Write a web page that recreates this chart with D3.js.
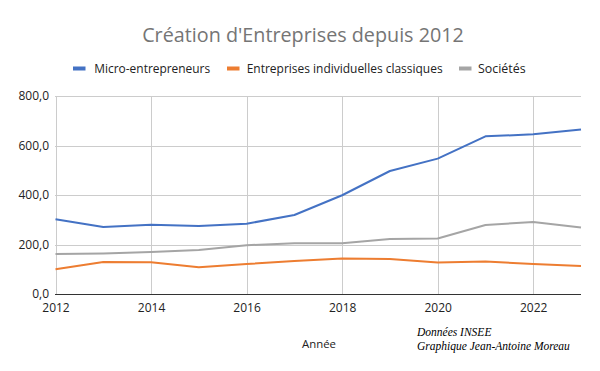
<!DOCTYPE html>
<html><head><meta charset="utf-8">
<script src="https://cdn.jsdelivr.net/npm/d3@7"></script>
<style>body{margin:0;background:#fff;}svg{display:block;font-family:"Open Sans", Roboto, sans-serif;}</style>
</head><body>
<svg id="c" width="600" height="371"></svg>
<script>
const years = [2012,2013,2014,2015,2016,2017,2018,2019,2020,2021,2022,2023];
const microEntrepreneurs = [302,271,280,275,284,319,399,497,547,637,645,665];
const entreprisesClassiques = [100,129,128,108,121,133,143,141,127,131,121,113];
const societes = [162,164,170,178,197,205,205,222,224,279,291,269];
const seriesNames = ["Micro-entrepreneurs","Entreprises individuelles classiques","Sociétés"];
const seriesColors = ["#4472c4","#ed7d31","#a5a5a5"];
const xTicks = [2012,2014,2016,2018,2020,2022];
const yTicks = [0,200,400,600,800];

const svg = d3.select("#c");
const x = d3.scaleLinear().domain([2012,2023]).range([55.5,581]);
const y = d3.scaleLinear().domain([0,800]).range([294,96]);
const fmt = v => d3.format(".1f")(v).replace(".",",");

function fit(sel, target, base){
  sel.attr("font-size",base);
  const w = sel.node().getComputedTextLength();
  if (w>0) sel.attr("font-size", base*target/w);
  return sel;
}

// title
const title = svg.append("text").attr("x",303).attr("y",42).attr("text-anchor","middle")
  .attr("fill","#757575").text("Création d'Entreprises depuis 2012");
fit(title, 322, 19);

// legend
const legendX = [73,227,459];
const legendTextX = [94.3,246.7,478];
const legendW = [116,196,47.7];
seriesNames.forEach((n,i)=>{
  svg.append("rect").attr("x",legendX[i]).attr("y",66.5).attr("width",12.5).attr("height",4).attr("fill",seriesColors[i]);
  const t = svg.append("text").attr("x",legendTextX[i]).attr("y",72.5).attr("fill","#222").text(n);
  fit(t, legendW[i], 12);
});

// grid
const g = svg.append("g");
g.selectAll(".hg").data(yTicks.filter(d=>d>0)).join("line")
  .attr("x1",55).attr("x2",581).attr("y1",d=>Math.round(y(d))+0.5).attr("y2",d=>Math.round(y(d))+0.5)
  .attr("stroke","#cccccc").attr("stroke-width",1);
g.selectAll(".vg").data(xTicks).join("line")
  .attr("x1",d=>Math.round(x(d))+0.5).attr("x2",d=>Math.round(x(d))+0.5).attr("y1",96).attr("y2",294)
  .attr("stroke","#cccccc").attr("stroke-width",1);

// axes labels
const yAxis = d3.axisLeft(y).tickValues(yTicks).tickFormat(fmt).tickSize(0).tickPadding(6);
const ya = svg.append("g").attr("transform","translate(55,0)").call(yAxis);
ya.select(".domain").remove();
ya.selectAll("text").attr("font-size",12).attr("fill","#222").attr("font-family","'Open Sans', sans-serif");

const xAxis = d3.axisBottom(x).tickValues(xTicks).tickFormat(d3.format("d")).tickSize(0).tickPadding(9);
const xa = svg.append("g").attr("transform","translate(0,294)").call(xAxis);
xa.select(".domain").remove();
xa.selectAll("text").attr("font-size",12).attr("fill","#222").attr("font-family","'Open Sans', sans-serif");

// lines
const data = [microEntrepreneurs, entreprisesClassiques, societes];
const line = d3.line().x((d,i)=>x(years[i])).y(d=>y(d));
[2,1,0].forEach(i=>{
  svg.append("path").attr("d",line(data[i])).attr("fill","none")
    .attr("stroke",seriesColors[i]).attr("stroke-width",2).attr("stroke-linejoin","round");
});

// baseline
svg.append("line").attr("x1",55).attr("x2",581).attr("y1",294.5).attr("y2",294.5).attr("stroke","#333").attr("stroke-width",1);

// axis title
const at = svg.append("text").attr("x",319).attr("y",348).attr("text-anchor","middle").attr("fill","#222").text("Année");
fit(at, 34, 12);

// credits
svg.append("text").attr("x",417).attr("y",336).attr("font-size",11.5).attr("font-style","italic")
  .attr("font-family","'Liberation Serif', serif").attr("fill","#000").text("Données INSEE");
svg.append("text").attr("x",417).attr("y",350).attr("font-size",11.5).attr("font-style","italic")
  .attr("font-family","'Liberation Serif', serif").attr("fill","#000").text("Graphique Jean-Antoine Moreau");
</script>
</body></html>
